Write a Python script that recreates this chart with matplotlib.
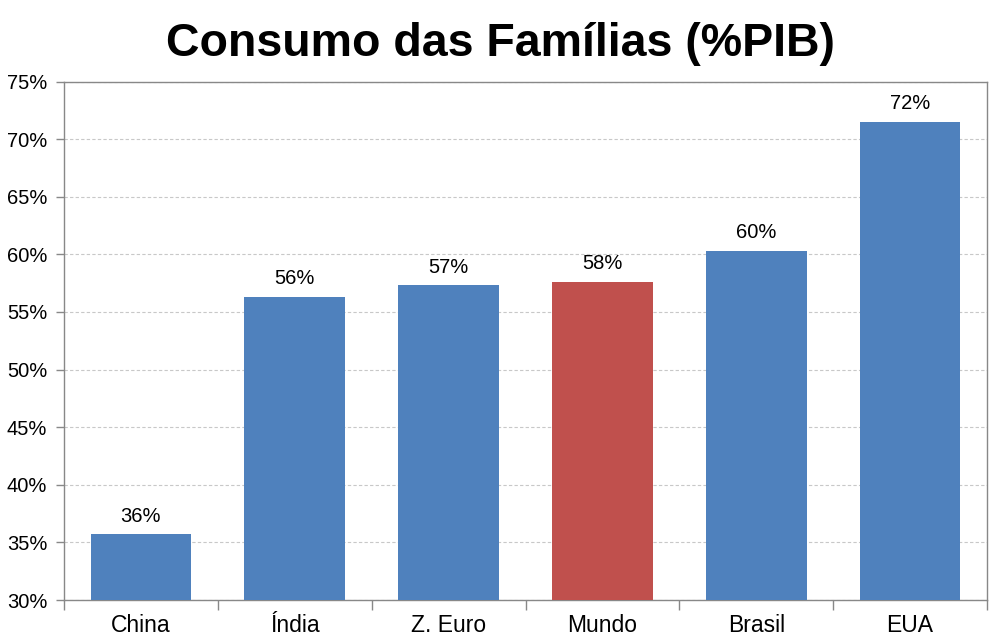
import matplotlib.pyplot as plt
from matplotlib.ticker import FuncFormatter, MultipleLocator, FixedLocator

plt.rcParams['font.family'] = ['Liberation Sans', 'DejaVu Sans']

# Household consumption, % of GDP
categories = ['China', 'Índia', 'Z. Euro', 'Mundo', 'Brasil', 'EUA']
values = [35.7, 56.3, 57.3, 57.6, 60.3, 71.5]
colors = ['#4F81BD', '#4F81BD', '#4F81BD', '#C0504D', '#4F81BD', '#4F81BD']

fig = plt.figure(figsize=(10, 6.42), dpi=100)
ax = fig.add_axes([0.064, 0.0654, 0.923, 0.8076])

x = range(len(categories))
bars = ax.bar(x, values, width=0.655, color=colors, zorder=3)

for xi, v in zip(x, values):
    ax.text(xi, v + 0.75, f'{v:.0f}%', ha='center', va='bottom', fontsize=14.5)

ax.set_ylim(30, 75)
ax.set_xlim(-0.5, len(categories) - 0.5)
ax.yaxis.set_major_locator(MultipleLocator(5))
ax.yaxis.set_major_formatter(FuncFormatter(lambda v, p: f'{v:.0f}%'))
ax.grid(axis='y', color='#c8c8c8', linestyle=(0, (3, 2)), linewidth=0.8, zorder=0)

ax.set_xticks(list(x))
ax.set_xticklabels(categories, fontsize=16.5)
ax.tick_params(axis='x', length=0, pad=10)
ax.xaxis.set_minor_locator(FixedLocator([i - 0.5 for i in range(len(categories) + 1)]))
ax.tick_params(axis='x', which='minor', length=7, color='#888888', width=1)
ax.tick_params(axis='y', labelsize=14.5, length=6, color='#888888', width=1, pad=6)

for s in ax.spines.values():
    s.set_color('#888888')
    s.set_linewidth(1)

fig.suptitle('Consumo das Famílias (%PIB)', fontsize=33.5, fontweight='bold', y=0.965)

fig.savefig('out.png', dpi=100)
